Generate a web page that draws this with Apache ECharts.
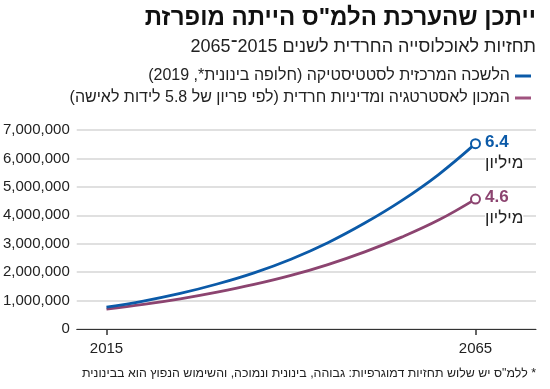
<!DOCTYPE html>
<html>
<head>
<meta charset="utf-8">
<script src="https://cdn.jsdelivr.net/npm/echarts@6/dist/echarts.min.js"></script>
<style>
html,body{margin:0;padding:0;background:#fff;}
#chart{width:550px;height:389px;direction:rtl;}
</style>
</head>
<body>
<div id="chart" dir="rtl"></div>
<script>
const titleText = 'ייתכן שהערכת הלמ"ס הייתה מופרזת';
const subtitleText = 'תחזיות לאוכלוסייה החרדית לשנים 2015־2065';
const footnoteText = '* ללמ"ס יש שלוש תחזיות דמוגרפיות: גבוהה, בינונית ונמוכה, והשימוש הנפוץ הוא בבינונית';
const seriesNames = ['הלשכה המרכזית לסטטיסטיקה (חלופה בינונית*, 2019)', 'המכון לאסטרטגיה ומדיניות חרדית (לפי פריון של 5.8 לידות לאישה)'];
const years = [2015, 2020, 2025, 2030, 2035, 2040, 2045, 2050, 2055, 2060, 2065];
const cbsValues = [770000, 984000, 1251000, 1582000, 1975000, 2456000, 3036000, 3727000, 4516000, 5434000, 6520000];
const instituteValues = [700000, 864000, 1060000, 1295000, 1566000, 1884000, 2267000, 2714000, 3233000, 3832000, 4570000];
const endLabels = ['6.4', '4.6'];
const unitLabel = 'מיליון';
const xTickYears = [2015, 2065];

const colors = ['#0b5aa8', '#8c4470'];
const legendColors = ['#0b5aa8', '#a0537f'];
const font = 'Liberation Sans';

function buildData(vals, idx) {
  return vals.map((v, i) => {
    const item = { value: [years[i], v], symbolSize: 0 };
    if (i === vals.length - 1) {
      item.symbolSize = 9;
      item.itemStyle = { color: '#fff', borderColor: colors[idx], borderWidth: 2 };
      item.label = {
        show: true,
        position: 'right',
        distance: 4,
        offset: [0, 9],
        formatter: '{a|' + endLabels[idx] + '}\n{b|' + unitLabel + '}',
        rich: {
          a: { fontFamily: font, fontSize: 17, fontWeight: 'bold', color: colors[idx], lineHeight: 21, align: 'left' },
          b: { fontFamily: font, fontSize: 17, color: '#222', lineHeight: 21, align: 'left', backgroundColor: '#fff' }
        }
      };
    }
    return item;
  });
}

const chart = echarts.init(document.getElementById('chart'), null, { renderer: 'canvas' });
chart.setOption({
  animation: false,
  backgroundColor: '#fff',
  color: colors,
  graphic: [
    { type: 'text', right: 14, top: 6, style: { text: titleText, font: 'bold 24px "' + font + '"', fill: '#111', textAlign: 'right' } },
    { type: 'text', right: 14, top: 38, style: { text: subtitleText, font: '18px "' + font + '"', fill: '#222', textAlign: 'right' } },
    { type: 'text', right: 14, top: 368, style: { text: footnoteText, font: '12.4px "' + font + '"', fill: '#222', textAlign: 'right' } }
  ],
  legend: {
    orient: 'vertical',
    right: 14,
    top: 63,
    align: 'right',
    itemGap: 6,
    itemWidth: 16,
    itemHeight: 3,
    icon: 'rect',
    data: [
      { name: seriesNames[0], itemStyle: { color: legendColors[0] } },
      { name: seriesNames[1], itemStyle: { color: legendColors[1] } }
    ],
    textStyle: { fontFamily: font, fontSize: 16, color: '#222' }
  },
  grid: { left: 73, right: 14, top: 130, bottom: 60, containLabel: false },
  xAxis: {
    type: 'value',
    min: 2010.97,
    max: 2073.2,
    axisLine: { show: true, lineStyle: { color: '#333', width: 1 } },
    axisTick: { show: true, customValues: xTickYears, length: 6, lineStyle: { color: '#333', width: 1.5 } },
    axisLabel: { customValues: xTickYears, formatter: v => String(v), fontFamily: font, fontSize: 15, color: '#222', margin: 12 },
    splitLine: { show: false }
  },
  yAxis: {
    type: 'value',
    min: 0,
    max: 7000000,
    interval: 1000000,
    axisLine: { show: false },
    axisTick: { show: false },
    axisLabel: { formatter: v => v.toLocaleString('en-US'), fontFamily: font, fontSize: 15, color: '#222', margin: 7 },
    splitLine: { lineStyle: { color: '#d6d6d6', width: 1.5 } }
  },
  series: [
    {
      name: seriesNames[0], type: 'line', smooth: 0.4, data: buildData(cbsValues, 0),
      symbol: 'circle', showSymbol: true, lineStyle: { width: 2.8, color: colors[0] }, z: 3
    },
    {
      name: seriesNames[1], type: 'line', smooth: 0.4, data: buildData(instituteValues, 1),
      symbol: 'circle', showSymbol: true, lineStyle: { width: 2.8, color: colors[1] }, z: 2
    }
  ]
});
</script>
</body>
</html>
